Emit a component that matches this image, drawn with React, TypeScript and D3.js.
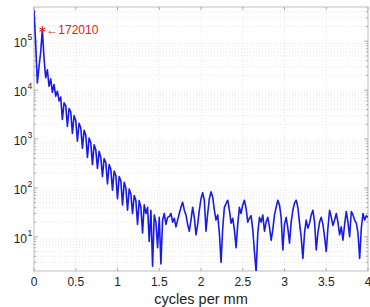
import React, { useRef, useEffect } from "react";
import * as d3 from "d3";

const step = 0.02;
const magnitude = [
  430000, 90000, 14000, 30000, 60000, 172010, 45000, 18000, 26000, 12000,
  17000, 9000, 13000, 7500, 9500, 6000, 7200, 2500, 5500, 4800,
  1800, 4200, 3600, 1300, 3000, 2400, 900, 2100, 1700, 650,
  1500, 1200, 420, 1050, 850, 300, 760, 600, 250, 560,
  420, 170, 400, 330, 120, 300, 240, 90, 220, 180,
  60, 170, 140, 45, 130, 100, 35, 95, 75, 30,
  70, 55, 18, 55, 40, 12, 45, 30, 40, 8,
  35, 2.5, 28, 20, 6, 25, 2.8, 22, 30, 18,
  25, 26, 30, 20, 24, 16, 22, 30, 40, 51,
  35, 28, 18, 13, 22, 40, 25, 11, 18, 35,
  60, 80, 55, 13, 30, 60, 83, 65, 35, 22,
  28, 12, 3, 15, 40, 48, 56, 35, 19, 24,
  14, 6, 18, 40, 30, 45, 56, 38, 20, 24,
  27, 14, 5, 1.9, 12, 25, 20, 28, 13, 20,
  25, 16, 8.5, 14, 28, 40, 56, 45, 25, 5.4,
  18, 25, 15, 7.4, 20, 35, 49, 56, 40, 19,
  10, 3.6, 12, 22, 15, 19, 28, 35, 20, 5.4,
  12, 20, 25, 18, 10, 5, 15, 35, 25, 17,
  22, 30, 20, 11, 16, 8.5, 18, 33, 20, 10,
  33, 28, 22, 19, 12, 3.6, 15, 30, 22, 27,
  25,
];
const xTicks = [0, 0.5, 1, 1.5, 2, 2.5, 3, 3.5, 4];
const xTickLabels = ["0", "0.5", "1", "1.5", "2", "2.5", "3", "3.5", "4"];
const yDecades = [1, 2, 3, 4, 5];
const peak = { x: 0.1, y: 172010, label: "172010" };

export default function App() {
  const ref = useRef<SVGSVGElement>(null);

  useEffect(() => {
    if (!ref.current) return;
    const svg = d3.select(ref.current);
    svg.selectAll("*").remove();

    const m = { left: 34, right: 368, top: 7, bottom: 271 };
    const font = "Liberation Sans, Arial, sans-serif";

    const x = d3.scaleLinear().domain([0, 4]).range([m.left, m.right]);
    const y = d3.scaleLog().domain([2, 500000]).range([m.bottom, m.top]);

    // minor grid values 2..9 x 10^k inside the domain
    const minor: number[] = [];
    for (let k = 0; k <= 5; k++) {
      for (let j = 2; j <= 9; j++) {
        const v = j * Math.pow(10, k);
        if (v > 2 && v < 500000) minor.push(v);
      }
    }

    const grid = svg.append("g")
      .attr("stroke", "#dcdcdc")
      .attr("stroke-width", 0.7)
      .attr("stroke-dasharray", "1,2");

    grid.selectAll(".gx")
      .data(xTicks.slice(1, -1))
      .join("line")
        .attr("x1", d => x(d)).attr("x2", d => x(d))
        .attr("y1", m.top).attr("y2", m.bottom);

    grid.selectAll(".gy")
      .data(minor)
      .join("line")
        .attr("x1", m.left).attr("x2", m.right)
        .attr("y1", d => y(d)).attr("y2", d => y(d));

    // axes box
    svg.append("rect")
      .attr("x", m.left).attr("y", m.top)
      .attr("width", m.right - m.left).attr("height", m.bottom - m.top)
      .attr("fill", "none").attr("stroke", "#bdbdbd").attr("stroke-width", 1);

    // ticks (inward, MATLAB style)
    const ticks = svg.append("g").attr("stroke", "#999").attr("stroke-width", 0.8);
    xTicks.forEach(t => {
      ticks.append("line").attr("x1", x(t)).attr("x2", x(t)).attr("y1", m.bottom).attr("y2", m.bottom - 3);
      ticks.append("line").attr("x1", x(t)).attr("x2", x(t)).attr("y1", m.top).attr("y2", m.top + 3);
    });
    yDecades.forEach(k => {
      const v = Math.pow(10, k);
      ticks.append("line").attr("x1", m.left).attr("x2", m.left + 4).attr("y1", y(v)).attr("y2", y(v));
      ticks.append("line").attr("x1", m.right).attr("x2", m.right - 4).attr("y1", y(v)).attr("y2", y(v));
    });
    minor.forEach(v => {
      ticks.append("line").attr("x1", m.left).attr("x2", m.left + 2).attr("y1", y(v)).attr("y2", y(v));
      ticks.append("line").attr("x1", m.right).attr("x2", m.right - 2).attr("y1", y(v)).attr("y2", y(v));
    });

    // x tick labels
    svg.append("g")
      .attr("font-family", font)
      .attr("font-size", 12)
      .attr("fill", "#222")
      .attr("text-anchor", "middle")
      .selectAll("text")
      .data(xTicks)
      .join("text")
        .attr("x", d => x(d))
        .attr("y", m.bottom + 15)
        .text((d, i) => xTickLabels[i]);

    // y tick labels: 10^k
    const yl = svg.append("g")
      .attr("font-family", font)
      .attr("fill", "#222");
    yDecades.forEach(k => {
      const ty = y(Math.pow(10, k));
      yl.append("text")
        .attr("x", 27).attr("y", ty + 6)
        .attr("font-size", 12).attr("text-anchor", "end")
        .text("10");
      yl.append("text")
        .attr("x", 27.5).attr("y", ty - 1)
        .attr("font-size", 8.5)
        .text(String(k));
    });

    // x label
    svg.append("text")
      .attr("x", (m.left + m.right) / 2)
      .attr("y", 303.5)
      .attr("text-anchor", "middle")
      .attr("font-family", font)
      .attr("font-size", 14.5)
      .attr("fill", "#222")
      .text("cycles per mm");

    // spectrum line
    const line = d3.line<number>()
      .x((d, i) => x(i * step))
      .y(d => y(d));

    svg.append("clipPath").attr("id", "plotclip")
      .append("rect")
      .attr("x", m.left).attr("y", m.top)
      .attr("width", m.right - m.left).attr("height", m.bottom - m.top);

    svg.append("path")
      .datum(magnitude)
      .attr("clip-path", "url(#plotclip)")
      .attr("fill", "none")
      .attr("stroke", "#1a1ae6")
      .attr("stroke-width", 1.6)
      .attr("stroke-linejoin", "round")
      .attr("d", line);

    // peak annotation
    svg.append("path")
      .attr("d", d3.symbol(d3.symbolAsterisk, 30)())
      .attr("transform", `translate(${x(peak.x)},${y(peak.y)})`)
      .attr("stroke", "#e02020")
      .attr("stroke-width", 1.2)
      .attr("fill", "none");

    svg.append("text")
      .attr("x", x(peak.x) + 4)
      .attr("y", y(peak.y) + 4)
      .attr("font-family", font)
      .attr("font-size", 12)
      .attr("fill", "#e02020")
      .text("\u2190" + peak.label);
  }, []);

  return (
    <svg
      ref={ref}
      width={370}
      height={307}
      style={{ position: "absolute", left: 0, top: 0, background: "#fff" }}
    />
  );
}
